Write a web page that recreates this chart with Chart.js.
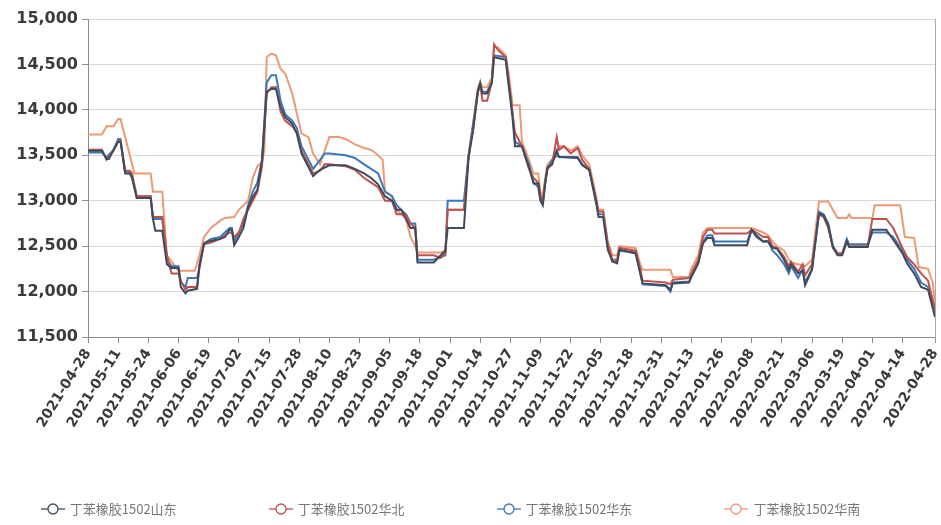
<!DOCTYPE html>
<html>
<head>
<meta charset="utf-8">
<script src="https://cdn.jsdelivr.net/npm/chart.js@4.4.0/dist/chart.umd.min.js"></script>
<style>
  html, body { margin: 0; padding: 0; background: #fff; }
  #wrap { position: relative; width: 941px; height: 525px; }
  #legend { position: absolute; left: -20px; top: 499px; width: 941px; display: flex; justify-content: center; gap: 92px;
            font-family: "Noto Sans CJK SC"; font-size: 13px; color: #777; }
  .item { display: flex; align-items: center; }
  .item svg { margin-right: 5px; }
</style>
</head>
<body>
<div id="wrap">
  <canvas id="myChart" width="941" height="525"></canvas>
  <div id="legend"></div>
</div>
<script>
  // x = days since 2021-04-28
  var tickDays = [0, 13, 26, 39, 52, 65, 78, 91, 104, 117, 130, 143, 156, 169, 182, 195, 208, 221, 234, 247, 260, 273, 286, 299, 312, 325, 338, 351, 365];
  var tickLabels = ['2021-04-28', '2021-05-11', '2021-05-24', '2021-06-06', '2021-06-19', '2021-07-02', '2021-07-15', '2021-07-28',
    '2021-08-10', '2021-08-23', '2021-09-05', '2021-09-18', '2021-10-01', '2021-10-14', '2021-10-27', '2021-11-09', '2021-11-22',
    '2021-12-05', '2021-12-18', '2021-12-31', '2022-01-13', '2022-01-26', '2022-02-08', '2022-02-21', '2022-03-06', '2022-03-19',
    '2022-04-01', '2022-04-14', '2022-04-28'];
  var seriesNames = ['丁苯橡胶1502山东', '丁苯橡胶1502华北', '丁苯橡胶1502华东', '丁苯橡胶1502华南'];
  var seriesColors = ['#3f4b5d', '#c0504d', '#3a78b8', '#ec9a74'];

  var shandong = [[0,13550],[6,13550],[8,13460],[9,13460],[11,13560],[12,13600],[13,13650],[14,13650],[16,13300],[18,13300],[19,13250],[21,13030],[27,13030],[28,12800],[29,12670],[32,12670],[34,12300],[36,12260],[39,12260],[40,12050],[42,11980],[43,12010],[47,12030],[48,12280],[50,12530],[53,12560],[57,12580],[59,12600],[61,12680],[62,12680],[63,12510],[65,12600],[67,12700],[69,12930],[71,13040],[73,13120],[75,13450],[77,14200],[79,14230],[81,14230],[83,14030],[85,13920],[88,13850],[90,13740],[92,13520],[95,13370],[97,13270],[100,13340],[104,13390],[111,13390],[115,13350],[119,13300],[122,13250],[125,13180],[128,13050],[131,13000],[133,12900],[135,12900],[137,12800],[139,12700],[141,12700],[142,12320],[149,12320],[152,12400],[154,12450],[155,12700],[162,12700],[164,13480],[166,13780],[168,14200],[169,14300],[170,14180],[172,14180],[174,14300],[175,14580],[180,14550],[181,14330],[183,13900],[184,13600],[187,13600],[190,13370],[192,13190],[194,13190],[195,13000],[196,12950],[197,13180],[198,13370],[200,13400],[202,13550],[203,13480],[211,13470],[213,13390],[216,13340],[219,12970],[220,12820],[222,12820],[224,12460],[226,12330],[228,12310],[229,12460],[236,12420],[238,12200],[239,12090],[249,12070],[251,12020],[252,12090],[259,12100],[260,12160],[263,12310],[265,12530],[267,12590],[269,12590],[270,12510],[284,12510],[286,12680],[288,12620],[291,12550],[293,12550],[295,12480],[297,12470],[300,12350],[302,12240],[303,12300],[306,12200],[308,12230],[309,12070],[312,12240],[315,12860],[317,12840],[319,12730],[321,12490],[323,12400],[325,12400],[327,12550],[328,12490],[336,12490],[338,12680],[344,12680],[347,12570],[351,12420],[353,12310],[356,12200],[359,12050],[362,12020],[365,11720]];

  var huabei = [[0,13560],[6,13560],[8,13450],[11,13550],[13,13660],[14,13660],[16,13330],[18,13330],[19,13300],[21,13050],[27,13050],[28,12820],[32,12820],[34,12400],[36,12200],[39,12200],[40,12120],[42,12020],[43,12050],[47,12050],[48,12300],[50,12520],[53,12540],[57,12580],[59,12620],[61,12650],[62,12650],[63,12600],[65,12650],[67,12800],[69,12900],[71,13000],[73,13100],[75,13380],[77,14180],[79,14250],[81,14250],[83,13980],[85,13880],[88,13820],[90,13750],[92,13550],[95,13400],[97,13300],[100,13330],[102,13400],[104,13400],[111,13380],[115,13340],[119,13250],[122,13200],[125,13150],[128,13000],[131,13000],[133,12850],[137,12850],[139,12750],[141,12700],[142,12400],[149,12400],[152,12370],[154,12420],[155,12900],[162,12900],[164,13480],[166,13800],[168,14200],[169,14280],[170,14100],[172,14100],[174,14300],[175,14720],[177,14650],[180,14580],[181,14400],[183,13950],[184,13750],[187,13600],[190,13350],[192,13250],[194,13200],[195,13050],[196,13000],[197,13200],[198,13350],[200,13400],[202,13700],[203,13560],[205,13600],[208,13520],[211,13580],[213,13450],[216,13350],[219,13000],[220,12880],[222,12880],[224,12520],[226,12350],[228,12350],[229,12480],[236,12450],[238,12250],[239,12120],[249,12100],[251,12080],[252,12130],[259,12150],[260,12200],[263,12350],[265,12600],[267,12680],[269,12680],[270,12640],[284,12640],[286,12680],[288,12650],[291,12600],[293,12600],[295,12500],[297,12480],[300,12380],[302,12280],[303,12330],[306,12220],[308,12300],[309,12180],[312,12300],[315,12850],[317,12820],[319,12700],[321,12480],[323,12420],[325,12420],[327,12550],[328,12500],[336,12500],[338,12800],[344,12800],[347,12700],[351,12480],[353,12380],[356,12300],[359,12200],[362,12120],[365,11800]];

  var huadong = [[0,13530],[6,13530],[8,13480],[11,13560],[13,13680],[14,13680],[16,13320],[18,13320],[19,13250],[21,13050],[27,13050],[28,12800],[32,12800],[34,12350],[36,12280],[39,12280],[40,12100],[42,12050],[43,12150],[47,12150],[48,12250],[50,12530],[53,12580],[57,12600],[59,12650],[61,12700],[62,12700],[63,12550],[65,12650],[67,12750],[69,12950],[71,13100],[73,13200],[75,13450],[77,14300],[79,14380],[81,14380],[83,14100],[85,13950],[88,13880],[90,13800],[92,13600],[95,13450],[97,13350],[100,13450],[102,13520],[104,13520],[111,13500],[115,13470],[119,13400],[122,13350],[125,13300],[128,13100],[131,13050],[133,12950],[137,12850],[139,12750],[141,12750],[142,12350],[149,12350],[152,12380],[154,12400],[155,13000],[162,13000],[164,13500],[166,13850],[168,14200],[169,14250],[170,14200],[172,14200],[174,14300],[175,14600],[180,14580],[181,14350],[183,13950],[184,13650],[187,13600],[190,13400],[192,13200],[194,13150],[195,13000],[196,12980],[197,13200],[198,13350],[200,13450],[202,13500],[203,13480],[211,13480],[213,13400],[216,13350],[219,13000],[220,12850],[222,12850],[224,12500],[226,12330],[228,12330],[229,12450],[236,12430],[238,12200],[239,12080],[249,12060],[251,12000],[252,12100],[259,12110],[260,12170],[263,12330],[265,12550],[267,12620],[269,12620],[270,12550],[284,12550],[286,12680],[288,12600],[291,12550],[293,12560],[295,12450],[297,12400],[300,12300],[302,12200],[303,12280],[306,12150],[308,12250],[309,12100],[312,12250],[315,12880],[317,12850],[319,12750],[321,12500],[323,12420],[325,12420],[327,12580],[328,12520],[336,12520],[338,12650],[344,12650],[347,12600],[351,12450],[353,12350],[356,12250],[359,12100],[362,12050],[365,11750]];

  var huanan = [[0,13730],[6,13730],[8,13820],[11,13820],[13,13900],[14,13900],[16,13700],[18,13500],[20,13300],[27,13300],[28,13100],[32,13100],[34,12400],[36,12330],[39,12230],[46,12230],[48,12400],[50,12600],[53,12700],[57,12780],[59,12810],[63,12820],[65,12900],[69,13000],[71,13250],[73,13380],[75,13420],[76,13560],[77,14580],[79,14620],[81,14600],[83,14450],[85,14400],[88,14180],[90,13960],[92,13740],[95,13700],[97,13520],[100,13400],[102,13550],[104,13700],[108,13700],[111,13680],[115,13620],[119,13580],[122,13560],[125,13500],[127,13450],[128,13100],[131,13050],[133,12900],[137,12800],[139,12600],[141,12500],[142,12430],[152,12430],[154,12450],[155,12900],[162,12900],[164,13500],[166,13850],[168,14250],[169,14300],[170,14250],[172,14250],[174,14350],[175,14700],[177,14680],[180,14600],[181,14450],[183,14050],[186,14050],[187,13650],[190,13450],[192,13300],[194,13300],[195,13100],[196,13050],[197,13250],[198,13400],[200,13450],[202,13550],[203,13600],[205,13600],[208,13550],[211,13600],[213,13500],[216,13400],[219,13050],[220,12900],[222,12900],[224,12550],[226,12400],[228,12400],[229,12500],[236,12480],[238,12300],[239,12240],[251,12240],[252,12160],[259,12160],[260,12250],[263,12400],[265,12650],[267,12700],[286,12700],[288,12680],[291,12650],[293,12620],[295,12550],[297,12500],[300,12450],[302,12350],[303,12320],[306,12300],[309,12280],[312,12350],[315,12990],[319,12990],[321,12900],[323,12810],[327,12810],[328,12850],[329,12810],[338,12810],[339,12950],[350,12950],[352,12600],[356,12590],[358,12270],[362,12250],[364,12100],[365,11850]];

  var seriesData = [shandong, huabei, huadong, huanan];

  // legend as html
  var legendDiv = document.getElementById('legend');
  for (var i = 0; i < seriesNames.length; i++) {
    var c = seriesColors[i];
    legendDiv.innerHTML += '<div class="item"><svg width="24" height="14"><line x1="0" y1="7" x2="24" y2="7" stroke="' + c +
      '" stroke-width="1.3"/><circle cx="12" cy="7" r="5" fill="#fff" stroke="' + c + '" stroke-width="1.3"/></svg>' +
      '<span>' + seriesNames[i] + '</span></div>';
  }

  var datasets = [];
  for (var j = 0; j < seriesNames.length; j++) {
    datasets.push({
      label: seriesNames[j],
      data: seriesData[j],
      borderColor: seriesColors[j],
      backgroundColor: seriesColors[j],
      borderWidth: 2,
      pointRadius: 0,
      tension: 0,
      fill: false
    });
  }

  var ctx = document.getElementById('myChart').getContext('2d');
  var chart = new Chart(ctx, {
    type: 'line',
    data: { datasets: datasets },
    options: {
      responsive: false,
      animation: false,
      devicePixelRatio: 1,
      layout: { padding: { top: 19, left: 0, right: 0, bottom: 0 } },
      plugins: { legend: { display: false }, tooltip: { enabled: false } },
      scales: {
        x: {
          type: 'linear',
          min: 0,
          max: 365,
          afterBuildTicks: function(axis) {
            axis.ticks = tickDays.map(function(d) { return { value: d }; });
          },
          afterFit: function(scale) {
            scale.height = 188;
            scale.paddingLeft = 0;
            scale.paddingRight = 0;
          },
          ticks: {
            autoSkip: false,
            minRotation: 58,
            maxRotation: 58,
            color: '#3a3a3a',
            font: { family: 'DejaVu Sans', size: 14, weight: 'bold' },
            callback: function(value) { return tickLabels[tickDays.indexOf(value)]; }
          },
          grid: { drawOnChartArea: false, drawTicks: true, tickLength: 6, color: '#8c8c8c' },
          border: { color: '#8c8c8c' }
        },
        y: {
          min: 11500,
          max: 15000,
          afterFit: function(scale) { scale.width = 88; },
          ticks: {
            stepSize: 500,
            padding: 4,
            color: '#3a3a3a',
            font: { family: 'DejaVu Sans', size: 16, weight: 'bold' },
            callback: function(value) { return value.toLocaleString('en-US'); }
          },
          grid: { color: '#d9d9d9', tickColor: '#8c8c8c', tickLength: 6 },
          border: { color: '#8c8c8c' }
        },
        yRight: {
          position: 'right',
          min: 0,
          max: 1,
          afterFit: function(scale) { scale.width = 6; },
          ticks: { display: false },
          grid: { drawOnChartArea: false, drawTicks: false },
          border: { color: '#a6a6a6' }
        }
      }
    }
  });
</script>
</body>
</html>
